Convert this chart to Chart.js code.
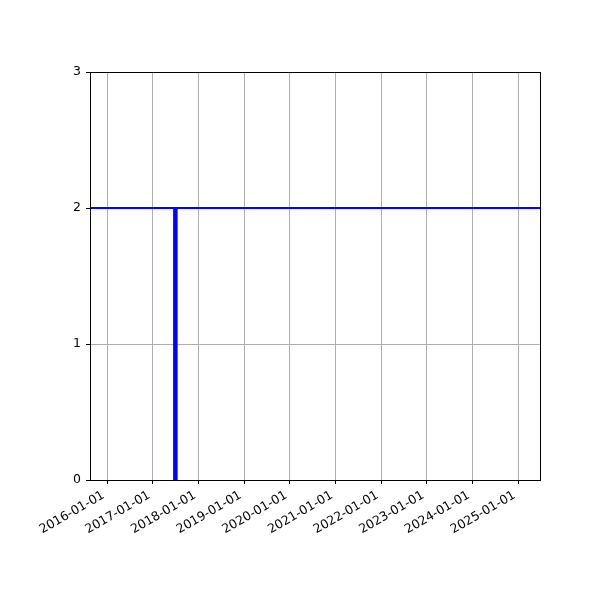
<!DOCTYPE html>
<html>
<head>
<meta charset="utf-8">
<script src="https://cdn.jsdelivr.net/npm/chart.js@4"></script>
<style>
  html, body { margin: 0; padding: 0; background: #fff; }
  #wrap { width: 600px; height: 600px; }
</style>
</head>
<body>
<div id="wrap"><canvas id="myChart" width="600" height="600"></canvas></div>
<script>
// x range of the axes (dates)
const xStart = '2015-08-18';
const xEnd = '2025-06-26';
// year ticks
const tickDates = ['2016-01-01', '2017-01-01', '2018-01-01', '2019-01-01', '2020-01-01',
                   '2021-01-01', '2022-01-01', '2023-01-01', '2024-01-01', '2025-01-01'];
const yTicks = [0, 1, 2, 3];
// bar series
const barDates = ['2017-07-01'];
const barValues = [2];
// horizontal reference level
const refLevel = 2;

const toMs = s => Date.parse(s);
const fmt = ms => new Date(ms).toISOString().slice(0, 10);

const barSets = barDates.map((d, i) => ({
    data: [{ x: toMs(d), y: 0 }, { x: toMs(d), y: barValues[i] }],
    borderColor: '#0000ff',
    borderWidth: 4.5,
    borderCapStyle: 'butt',
    showLine: true,
    pointRadius: 0
}));

const refSet = {
    data: [{ x: toMs(xStart), y: refLevel }, { x: toMs(xEnd), y: refLevel }],
    borderColor: '#0000ff',
    borderWidth: 2,
    showLine: true,
    pointRadius: 0
};

const frame = {
    id: 'frame',
    afterDatasetsDraw(chart) {
        const a = chart.chartArea;
        const ctx = chart.ctx;
        ctx.save();
        ctx.strokeStyle = '#000';
        ctx.lineWidth = 1;
        ctx.strokeRect(Math.round(a.left) + 0.5, Math.round(a.top) + 0.5,
            Math.round(a.right - a.left), Math.round(a.bottom - a.top));
        ctx.restore();
    }
};

Chart.defaults.font.family = 'DejaVu Sans';
Chart.defaults.font.size = 12.5;
Chart.defaults.color = '#000';

const chart = new Chart(document.getElementById('myChart').getContext('2d'), {
    type: 'scatter',
    data: { datasets: [...barSets, refSet] },
    plugins: [frame],
    options: {
        responsive: false,
        animation: false,
        layout: { padding: { top: 72, right: 60, left: 0, bottom: 0 } },
        plugins: { legend: { display: false }, tooltip: { enabled: false } },
        scales: {
            x: {
                type: 'linear',
                min: toMs(xStart),
                max: toMs(xEnd),
                afterBuildTicks: axis => { axis.ticks = tickDates.map(d => ({ value: toMs(d) })); },
                afterFit: axis => { axis.height = 120; },
                ticks: {
                    minRotation: 30,
                    maxRotation: 30,
                    autoSkip: false,
                    padding: 2,
                    // trailing space nudges the rotated label off the tick like matplotlib
                    callback: v => fmt(v) + ' '
                },
                grid: { color: '#b0b0b0', lineWidth: 1, tickColor: '#000', tickLength: 4 },
                border: { display: true, color: '#000', width: 1 }
            },
            y: {
                min: 0,
                max: 3,
                afterBuildTicks: axis => { axis.ticks = yTicks.map(v => ({ value: v })); },
                afterFit: axis => { axis.width = 90; },
                ticks: { padding: 5 },
                grid: { color: '#b0b0b0', lineWidth: 1, tickColor: '#000', tickLength: 4 },
                border: { display: true, color: '#000', width: 1 }
            }
        }
    }
});
</script>
</body>
</html>
